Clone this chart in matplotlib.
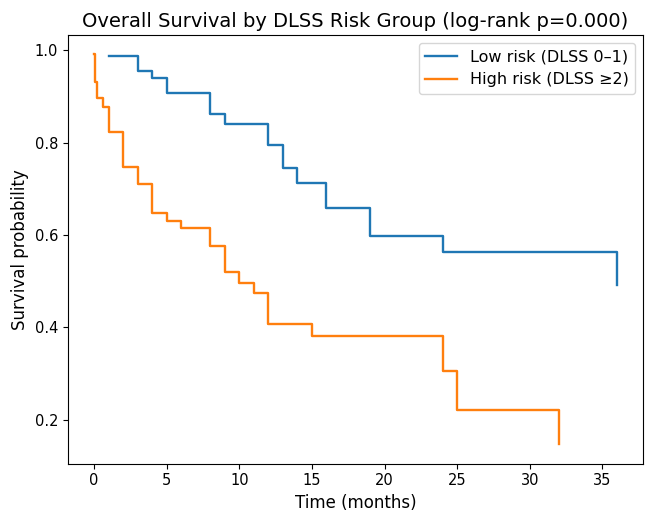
import matplotlib
matplotlib.use("Agg")
import matplotlib.pyplot as plt

low_label = "Low risk (DLSS 0–1)"
low_times = [1, 3, 4, 5, 8, 9, 12, 13, 14, 16, 19, 24, 36]
low_surv = [0.987, 0.955, 0.939, 0.908, 0.863, 0.841, 0.795, 0.744, 0.713, 0.658, 0.598, 0.563, 0.492]

high_label = "High risk (DLSS ≥2)"
high_times = [0, 0.05, 0.2, 0.6, 1, 2, 3, 4, 5, 6, 8, 9, 10, 11, 12, 15, 24, 25, 32]
high_surv = [0.991, 0.932, 0.896, 0.877, 0.824, 0.748, 0.710, 0.647, 0.631, 0.616,
             0.575, 0.519, 0.496, 0.474, 0.407, 0.382, 0.306, 0.221, 0.147]

title = "Overall Survival by DLSS Risk Group (log-rank p=0.000)"
xlabel = "Time (months)"
ylabel = "Survival probability"

fig = plt.figure(figsize=(6.57, 5.21), dpi=100)
ax = fig.add_axes([68/657, 1 - 463.5/521, (643 - 68)/657, (463.5 - 35)/521])
ax.step(low_times, low_surv, where="post", color="tab:blue", lw=1.7, label=low_label)
ax.step(high_times, high_surv, where="post", color="tab:orange", lw=1.7, label=high_label)
ax.set_title(title, fontsize=14)
ax.set_xlabel(xlabel, fontsize=12)
ax.set_ylabel(ylabel, fontsize=12)
ax.set_yticks([0.2, 0.4, 0.6, 0.8, 1.0])
ax.tick_params(labelsize=10.5)
ax.legend(loc="upper right", fontsize=11.5)
fig.savefig("out.png", dpi=100)
